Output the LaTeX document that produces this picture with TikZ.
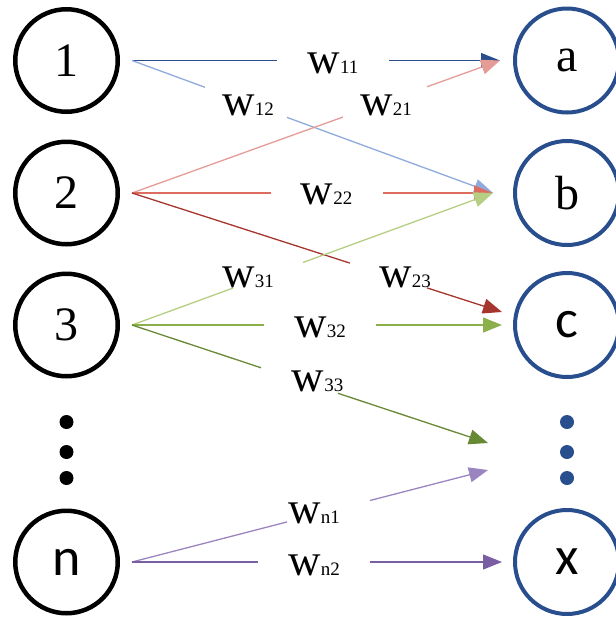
\documentclass[tikz,border=0pt]{standalone}
\usepackage{fontspec}
\setmainfont{Liberation Serif}
\newfontfamily\calib{Carlito}
\usetikzlibrary{arrows.meta}
\definecolor{cblue}{RGB}{40,78,142}
\definecolor{lblue}{RGB}{143,170,220}
\definecolor{lred}{RGB}{229,155,150}
\definecolor{mred}{RGB}{222,107,96}
\definecolor{dred}{RGB}{165,53,45}
\definecolor{lgreen}{RGB}{181,206,130}
\definecolor{mgreen}{RGB}{139,176,75}
\definecolor{dgreen}{RGB}{104,137,52}
\definecolor{lpurple}{RGB}{155,133,193}
\definecolor{dpurple}{RGB}{121,94,163}
\newcommand{\wsub}[1]{w{\fontsize{19}{19}\selectfont #1}}
\tikzset{
  lc/.style={circle, draw=black, line width=4.5pt, minimum size=102.5pt, inner sep=0pt, font=\fontsize{48}{48}\selectfont},
  rc/.style={circle, draw=cblue, line width=4pt, minimum size=104pt, inner sep=0pt, font=\fontsize{48}{48}\selectfont},
  sansnode/.style={font=\calib\fontsize{54}{54}\selectfont},
  wl/.style={inner sep=0pt, font=\fontsize{45}{45}\selectfont},
  conn/.style={line width=1.3pt, -{Triangle[length=19pt,width=15pt]}},
  ldot/.style={circle, fill=black, minimum size=14pt, inner sep=0pt},
  rdot/.style={circle, fill=cblue, minimum size=14pt, inner sep=0pt},
}
\begin{document}
\begin{tikzpicture}[x=1pt, y=-1pt]
\useasboundingbox (0,0) rectangle (616,619);
% left nodes
\node[lc] (n1) at (66.5,60.5) {1};
\node[lc] (n2) at (66.5,193) {2};
\node[lc] (n3) at (66.5,325) {3};
\node[lc, sansnode] (nn) at (66.5,562) {n};
\node[ldot] (ld1) at (66.5,422) {};
\node[ldot] (ld2) at (66.5,452) {};
\node[ldot] (ld3) at (66.5,478) {};
% right nodes
\node[rc] (a) at (567,60.5) {a};
\node[rc] (b) at (567,193) {b};
\node[rc, sansnode] (c) at (567,325) {c};
\node[rc, sansnode] (x) at (567,562) {x};
\node[rdot] (rd1) at (567,422) {};
\node[rdot] (rd2) at (567,452) {};
\node[rdot] (rd3) at (567,478) {};
\coordinate (t1) at (488,443);
\coordinate (t2) at (488,470);
% connectors
\draw[conn, cblue, dash pattern=on 145pt off 112pt on 2000pt] ([xshift=12pt]n1.east) -- ([xshift=-13pt]a.west);
\draw[conn, lblue, dash pattern=on 77.7pt off 87.3pt on 2000pt] ([xshift=12pt]n1.east) -- ([xshift=-20pt]b.west);
\draw[conn, lred, dash pattern=on 224.3pt off 89.3pt on 2000pt] ([xshift=12pt]n2.east) -- ([xshift=-13pt]a.west);
\draw[conn, mred, dash pattern=on 139pt off 112pt on 2000pt] ([xshift=12pt]n2.east) -- ([xshift=-20pt]b.west);
\draw[conn, dred, dash pattern=on 229pt off 80.9pt on 2000pt] ([xshift=12pt]n2.east) -- ([xshift=-11pt,yshift=13pt]c.west);
\draw[conn, lgreen, dash pattern=on 107.6pt off 74.6pt on 2000pt] ([xshift=12pt]n3.east) -- ([xshift=-20pt]b.west);
\draw[conn, mgreen, dash pattern=on 132pt off 112pt on 2000pt] ([xshift=12pt]n3.east) -- ([xshift=-11pt]c.west);
\draw[conn, dgreen, dash pattern=on 135.9pt off 81.1pt on 2000pt] ([xshift=12pt]n3.east) -- (t1);
\draw[conn, lpurple, dash pattern=on 160.1pt off 85.7pt on 2000pt] ([xshift=12pt]nn.east) -- (t2);
\draw[conn, dpurple, dash pattern=on 126pt off 112pt on 2000pt] ([xshift=12pt]nn.east) -- ([xshift=-11pt]x.west);
% labels
\node[wl] (w11) at (333,63.5) {\wsub{11}};
\node[wl] (w12) at (248,105.5) {\wsub{12}};
\node[wl] (w21) at (386,105.5) {\wsub{21}};
\node[wl] (w22) at (326.5,194) {\wsub{22}};
\node[wl] (w23) at (405,277) {\wsub{23}};
\node[wl] (w31) at (248,277) {\wsub{31}};
\node[wl] (w32) at (320,327) {\wsub{32}};
\node[wl] (w33) at (317.5,381) {\wsub{33}};
\node[wl] (wn1) at (314,513) {\wsub{n1}};
\node[wl] (wn2) at (314,565) {\wsub{n2}};
\end{tikzpicture}
\end{document}
